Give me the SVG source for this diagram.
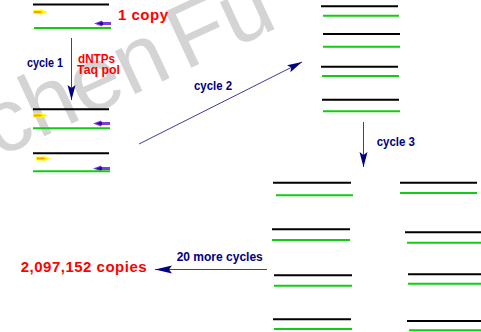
<svg xmlns="http://www.w3.org/2000/svg" xmlns:xlink="http://www.w3.org/1999/xlink" width="481" height="332" viewBox="0 0 481 332">
<style>
.bk{stroke:#000;stroke-width:2;}
.gr{stroke:#11cc11;stroke-width:2;}
.lbl{font-family:"Liberation Sans",Arial,sans-serif;font-weight:bold;font-size:12px;fill:#000080;}
.red{font-family:"Liberation Sans",Arial,sans-serif;font-weight:bold;fill:#ff0000;}
.big{font-size:15px;letter-spacing:0.5px;}
.conn{stroke:#3c3ca0;stroke-width:1;fill:none;}
.wm{font-family:"Liberation Sans",Arial,sans-serif;font-size:90px;fill:#d4d4d4;word-spacing:-14px;}
</style>
<defs>
<marker id="ah" markerUnits="userSpaceOnUse" markerWidth="16" markerHeight="9" refX="15" refY="4" orient="auto">
<path d="M0,0 L15,4 L0,8 L3,4 z" fill="#000080"/>
</marker>
<marker id="ah2" markerUnits="userSpaceOnUse" markerWidth="18" markerHeight="9" refX="17" refY="4" orient="auto">
<path d="M0,0 L17,4 L0,8 L3,4 z" fill="#000080"/>
</marker>
<g id="fwd">
<polygon points="0,-2 7,-2 7,-3 15,0 7,3 7,2 0,2" fill="#ffff00"/>
<polygon points="1,-1 7,-1 10,0 7,1 1,1" fill="#ff9900"/>
</g>
<g id="rev">
<polygon points="0,0 8,-3 8,-1.5 17,-1.5 17,1.5 8,1.5 8,3" fill="#7a3de0"/>
<polygon points="3,0 9,-2 9,2" fill="#330099"/>
</g>
</defs>
<rect width="481" height="332" fill="#fff"/>
<text class="wm" x="-2" y="158" transform="rotate(-25 -2 158)">chen Fu</text>

<g id="connectors">
<line class="conn" x1="71.5" y1="38" x2="71.5" y2="100" marker-end="url(#ah)"/>
<line class="conn" x1="139" y1="144" x2="302" y2="62" marker-end="url(#ah)"/>
<line class="conn" x1="363.5" y1="122" x2="363.5" y2="167" marker-end="url(#ah)"/>
<line class="conn" x1="267" y1="269.5" x2="155" y2="269.5" stroke-width="2" marker-end="url(#ah2)"/>
</g>

<g id="copy1">
<line class="bk" x1="33" y1="4.5" x2="109" y2="4.5"/>
<line class="gr" x1="34" y1="28" x2="111" y2="28"/>
<use xlink:href="#fwd" x="33" y="12"/>
<use xlink:href="#rev" x="94" y="23.5"/>
</g>
<text id="label-1copy" class="red big" x="118" y="20">1 copy</text>
<g id="label-cycle1"><text class="lbl" x="27" y="66.7" textLength="36" lengthAdjust="spacingAndGlyphs">cycle 1</text></g>
<g id="label-reagents">
<text class="red" font-size="12" x="78" y="62.7" textLength="37" lengthAdjust="spacingAndGlyphs">dNTPs</text>
<text class="red" font-size="12" x="77" y="74.3" textLength="43" lengthAdjust="spacingAndGlyphs">Taq pol</text>
</g>

<g id="cycle1-product">
<line class="bk" x1="33" y1="109.3" x2="109" y2="109.3"/>
<use xlink:href="#fwd" x="33" y="115.5"/>
<use xlink:href="#rev" x="93" y="123.5"/>
<line class="gr" x1="33" y1="128.3" x2="110" y2="128.3"/>
<line class="bk" x1="33" y1="153.3" x2="109" y2="153.3"/>
<use xlink:href="#fwd" x="36" y="158.5"/>
<use xlink:href="#rev" x="93" y="168.5"/>
<line class="gr" x1="33" y1="171.3" x2="110" y2="171.3"/>
</g>

<g id="label-cycle2"><text class="lbl" x="194" y="89.5" textLength="38" lengthAdjust="spacingAndGlyphs">cycle 2</text></g>

<g id="cycle2-product">
<line class="bk" x1="321" y1="6.3" x2="398" y2="6.3"/>
<line class="gr" x1="323" y1="15.7" x2="399" y2="15.7"/>
<line class="bk" x1="323" y1="34" x2="400" y2="34"/>
<line class="gr" x1="323" y1="46.7" x2="400" y2="46.7"/>
<line class="bk" x1="321" y1="66.7" x2="398" y2="66.7"/>
<line class="gr" x1="322" y1="76" x2="399" y2="76"/>
<line class="bk" x1="322" y1="99.7" x2="399" y2="99.7"/>
<line class="gr" x1="323" y1="111.3" x2="400" y2="111.3"/>
</g>

<g id="label-cycle3"><text class="lbl" x="376.7" y="146" textLength="38.3" lengthAdjust="spacingAndGlyphs">cycle 3</text></g>

<g id="cycle3-product">
<line class="bk" x1="273" y1="182.7" x2="351" y2="182.7"/>
<line class="gr" x1="276" y1="195.3" x2="353" y2="195.3"/>
<line class="bk" x1="272" y1="229.3" x2="350" y2="229.3"/>
<line class="gr" x1="272" y1="240" x2="350" y2="240"/>
<line class="bk" x1="274" y1="275.3" x2="352" y2="275.3"/>
<line class="gr" x1="274" y1="285.7" x2="352" y2="285.7"/>
<line class="bk" x1="273" y1="319.3" x2="351" y2="319.3"/>
<line class="gr" x1="274" y1="329" x2="352" y2="329"/>
<line class="bk" x1="400" y1="182.7" x2="477" y2="182.7"/>
<line class="gr" x1="400" y1="193" x2="477" y2="193"/>
<line class="bk" x1="405" y1="232.3" x2="482" y2="232.3"/>
<line class="gr" x1="407" y1="242.7" x2="484" y2="242.7"/>
<line class="bk" x1="408" y1="274.3" x2="485" y2="274.3"/>
<line class="gr" x1="408" y1="283.7" x2="485" y2="283.7"/>
<line class="bk" x1="407" y1="321" x2="484" y2="321"/>
<line class="gr" x1="409" y1="330.3" x2="486" y2="330.3"/>
</g>

<g id="label-20more"><text class="lbl" x="176.7" y="261">20 more cycles</text></g>
<g id="label-final"><text class="red big" x="20.7" y="271.7">2,097,152 copies</text></g>
</svg>
